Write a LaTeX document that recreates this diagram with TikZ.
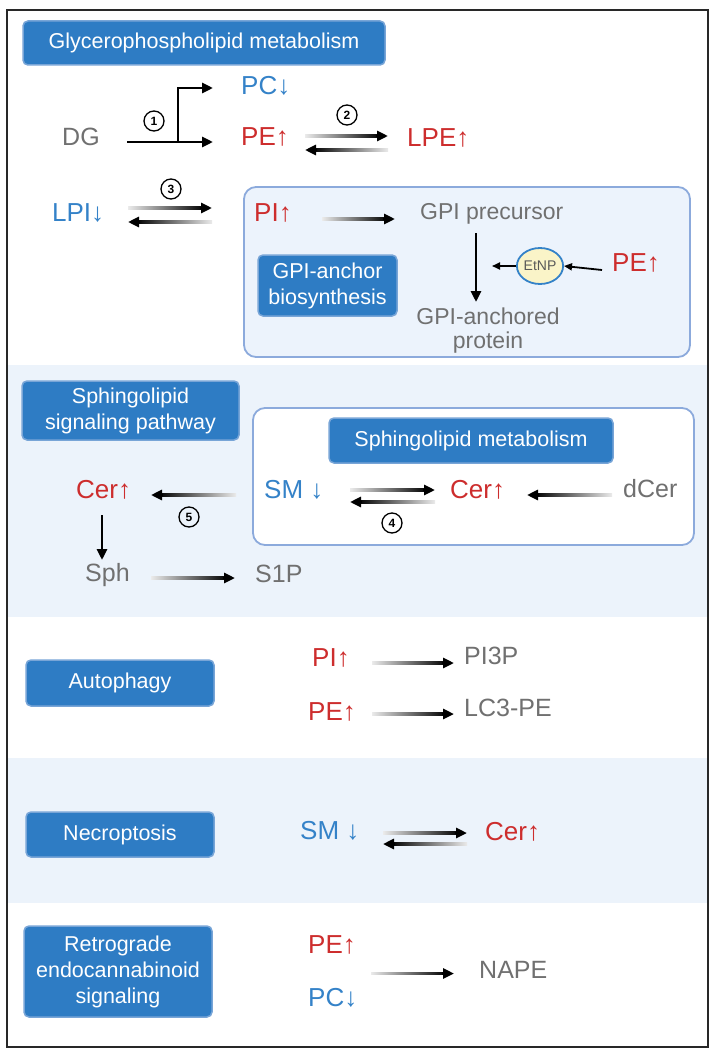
\documentclass[tikz,border=0pt]{standalone}
\usepackage{fontspec}
\setmainfont{Liberation Sans}
\usetikzlibrary{arrows.meta,shapes.geometric,calc}
\definecolor{boxblue}{RGB}{46,124,196}
\definecolor{boxedge}{RGB}{120,165,215}
\definecolor{tblue}{RGB}{52,130,200}
\definecolor{tred}{RGB}{205,45,45}
\definecolor{tgray}{RGB}{112,112,112}
\definecolor{secblue}{RGB}{236,243,251}
\definecolor{panelfill}{RGB}{236,243,252}
\definecolor{paneledge}{RGB}{140,170,220}
\definecolor{etfill}{RGB}{250,244,200}
\definecolor{framecol}{RGB}{40,40,40}
% connector with a shaft that fades in: #1 start coordinate, #2 tip coordinate (horizontal, at the start's height)
\newcommand\garR[2]{%
  \shade[left color=black!8, middle color=black!80, right color=black]
    ($(#1)+(0,-1.4)$) rectangle ($(#2 |- #1)+(-8,1.4)$);
  \draw[arr] ($(#2 |- #1)+(-12,0)$) -- (#2 |- #1);}
\newcommand\garL[2]{%
  \shade[left color=black, middle color=black!80, right color=black!8]
    ($(#2 |- #1)+(8,-1.4)$) rectangle ($(#1)+(0,1.4)$);
  \draw[arr] ($(#2 |- #1)+(12,0)$) -- (#2 |- #1);}
\begin{document}
\begin{tikzpicture}[x=1pt,y=-1pt,
  bigtip/.style={-{Triangle[length=11pt,width=10pt]}},
  smalltip/.style={-{Triangle[length=8pt,width=7pt]}},
  arr/.style={bigtip, line width=2.8pt, black},
  thinarr/.style={smalltip, line width=1.8pt, black},
  lab/.style={inner sep=0pt, anchor=west, text height=0.72em, text depth=0pt},
  upl/.style={lab, text=tred, font=\fontsize{26}{30}\selectfont},
  dnl/.style={lab, text=tblue, font=\fontsize{26}{30}\selectfont},
  gryl/.style={lab, text=tgray, font=\fontsize{25}{30}\selectfont},
  gpil/.style={lab, text=tgray, font=\fontsize{23}{24}\selectfont},
  tbox/.style={fill=boxblue, draw=boxedge, line width=1.5pt, rounded corners=5pt,
    text=white, align=center, inner sep=0pt, font=\fontsize{21.5}{26}\selectfont},
  panel/.style={draw=paneledge, line width=1.8pt, rounded corners=12pt},
  numc/.style={circle, draw, line width=1.3pt, minimum size=20pt, inner sep=0pt,
    font=\bfseries\fontsize{12}{12}\selectfont}
]
\useasboundingbox (0,0) rectangle (716,1057);
% section backgrounds
\fill[secblue] (8,365) rectangle (707,617);
\fill[secblue] (8,758) rectangle (707,903);
\draw[framecol, line width=2pt] (7,10) rectangle (708,1047);

% ---------- Glycerophospholipid metabolism ----------
\node[tbox, minimum width=362pt, minimum height=44pt] (b1) at (204,43) {Glycerophospholipid metabolism};
\node[gryl] (dg) at (62,142) {DG};
\node[dnl] (pc) at (241,91) {PC↓};
\node[upl] (pe) at (241,142) {PE↑};
\node[upl] (lpe) at (407,143) {LPE↑};
\node[numc] (c1) at (154,121) {1};
\node[numc] (c2) at (347,115) {2};
\coordinate (br) at (178,142);
\draw[line width=2.8pt] ([xshift=65]dg.west) -- (br);
\draw[arr] (br) |- ([xshift=-28,yshift=3]pc.west);
\draw[arr] (br) -- ([xshift=-28]pe.west);
\coordinate (s2a) at ([xshift=64,yshift=6]pe.west);
\coordinate (e2a) at ([xshift=-19,yshift=6]lpe.west);
\coordinate (s2b) at ([xshift=-19,yshift=-7]lpe.west);
\coordinate (e2b) at ([xshift=64,yshift=-7]pe.west);
\garR{s2a}{e2a}
\garL{s2b}{e2b}

\node[dnl] (lpi) at (52,218) {LPI↓};
\node[numc] (c3) at (171,189) {3};

\draw[panel, fill=panelfill] (244,187) rectangle (690,357);
\node[upl] (pi) at (254,218) {PI↑};
\coordinate (s3a) at ([xshift=76,yshift=10]lpi.west);
\coordinate (e3a) at ([xshift=-42,yshift=10]pi.west);
\coordinate (s3b) at ([xshift=-42,yshift=-4]pi.west);
\coordinate (e3b) at ([xshift=76,yshift=-4]lpi.west);
\garR{s3a}{e3a}
\garL{s3b}{e3b}
\node[gpil] (gpip) at (420,216) {GPI precursor};
\coordinate (spi) at ([xshift=68,yshift=-1]pi.west);
\coordinate (epi) at ([xshift=-25]gpip.west);
\garR{spi}{epi}
\node[tbox, minimum width=139pt, minimum height=61pt] (b2) at (327.5,285.5) {GPI-anchor\\biosynthesis};
\node[inner sep=0pt, align=center, text=tgray, font=\fontsize{23}{24}\selectfont] (gpia) at (488,331) {GPI-anchored\\protein};
\draw[arr] ([xshift=56,yshift=-17]gpip.west) -- ([xshift=56,yshift=-86]gpip.west);
\node[ellipse, draw=tblue, fill=etfill, line width=1.8pt, minimum width=46pt, minimum height=36pt,
  inner sep=0pt, text=black!65, font=\fontsize{14}{14}\selectfont] (etnp) at (540,266) {EtNP};
\node[upl] (pe2) at (612,268) {PE↑};
\draw[thinarr] ([xshift=-10,yshift=-2]pe2.west) -- (etnp.east);
\draw[thinarr] (etnp.west) -- ([xshift=-24]etnp.west);

% ---------- Sphingolipid ----------
\node[tbox, minimum width=217pt, minimum height=59pt] (b3) at (130.5,410.5) {Sphingolipid\\signaling pathway};
\draw[panel, fill=white] (253,408) rectangle (694,545);
\node[tbox, minimum width=284pt, minimum height=45pt] (b4) at (471,440.5) {Sphingolipid metabolism};
\node[upl] (cerL) at (76,495) {Cer↑};
\node[dnl] (smA) at (264,495) {SM ↓};
\node[upl] (cerR) at (450,495) {Cer↑};
\node[gryl] (dcer) at (623,494) {dCer};
\node[gryl] (sph) at (85,578) {Sph};
\node[gryl] (s1p) at (255,579) {S1P};
\node[numc] (c4) at (392,523) {4};
\node[numc] (c5) at (189,517) {5};
\coordinate (s5) at ([xshift=-28]smA.west);
\coordinate (e5) at ([xshift=75]cerL.west);
\garL{s5}{e5}
\coordinate (s4a) at ([xshift=86,yshift=5]smA.west);
\coordinate (e4a) at ([xshift=-15,yshift=5]cerR.west);
\coordinate (s4b) at ([xshift=-15,yshift=-7]cerR.west);
\coordinate (e4b) at ([xshift=86,yshift=-7]smA.west);
\garR{s4a}{e4a}
\garL{s4b}{e4b}
\coordinate (sdc) at ([xshift=-11,yshift=-1]dcer.west);
\coordinate (edc) at ([xshift=77]cerR.west);
\garL{sdc}{edc}
\draw[arr] ([xshift=26,yshift=-20]cerL.west) -- ([xshift=17,yshift=18]sph.west);
\coordinate (ssph) at ([xshift=66]sph.west);
\coordinate (esph) at ([xshift=-20]s1p.west);
\garR{ssph}{esph}

% ---------- Autophagy ----------
\node[tbox, minimum width=188pt, minimum height=46pt] (b5) at (120,683) {Autophagy};
\node[upl] (pi3) at (312,663) {PI↑};
\node[gryl] (pi3p) at (464,661) {PI3P};
\node[upl] (pe3) at (308,717) {PE↑};
\node[gryl] (lc3) at (464,713) {LC3-PE};
\coordinate (spi3) at ([xshift=60]pi3.west);
\coordinate (epi3) at ([xshift=-10]pi3p.west);
\coordinate (spe3) at ([xshift=64,yshift=3]pe3.west);
\coordinate (epe3) at ([xshift=-10]lc3.west);
\garR{spi3}{epi3}
\garR{spe3}{epe3}

% ---------- Necroptosis ----------
\node[tbox, minimum width=188pt, minimum height=45pt] (b6) at (120,834.5) {Necroptosis};
\node[dnl] (smN) at (300,836) {SM ↓};
\node[upl] (cerN) at (485,837) {Cer↑};
\coordinate (sna) at ([xshift=83,yshift=3]smN.west);
\coordinate (ena) at ([xshift=-18]cerN.west);
\coordinate (snb) at ([xshift=-18,yshift=-7]cerN.west);
\coordinate (enb) at ([xshift=83]smN.west);
\garR{sna}{ena}
\garL{snb}{enb}

% ---------- Retrograde endocannabinoid signaling ----------
\node[tbox, minimum width=188pt, minimum height=91pt] (b7) at (118,971.5) {Retrograde\\endocannabinoid\\signaling};
\node[upl] (pe5) at (308,950) {PE↑};
\node[dnl] (pc5) at (308,1003) {PC↓};
\node[gryl] (nape) at (479,975) {NAPE};
\coordinate (pp) at ($(pe5.west)!0.5!(pc5.west)$);
\coordinate (spp) at ([xshift=63,yshift=3]pp);
\coordinate (epp) at ([xshift=-25]nape.west);
\garR{spp}{epp}
\end{tikzpicture}
\end{document}
